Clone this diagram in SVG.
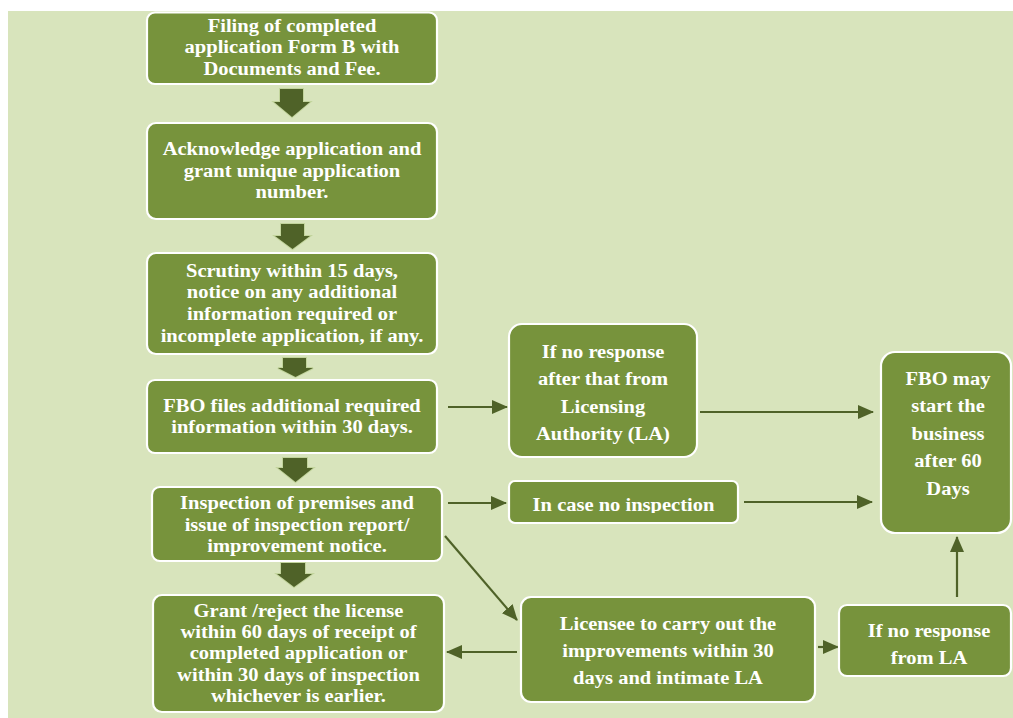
<svg xmlns="http://www.w3.org/2000/svg" width="1013" height="718" viewBox="0 0 1013 718">
  <style>
    .box { fill: #77933C; stroke: #FFFFFF; stroke-width: 2.2; }
    .t { font-family: "Liberation Serif", "Times New Roman", serif; font-weight: bold; font-size: 19px; fill: #FFFFFF; text-anchor: middle; }
    .blk { fill: #4F6228; stroke: #B9CD8E; stroke-width: 2; stroke-opacity: 0.7; paint-order: stroke; }
    .ln { stroke: #4F6228; stroke-width: 2.2; fill: none; marker-end: url(#ah); }
  </style>
  <defs>
    <marker id="ah" markerUnits="userSpaceOnUse" markerWidth="16" markerHeight="14" refX="15" refY="7" orient="auto">
      <path d="M0,0 L16,7 L0,14 z" fill="#4F6228"/>
    </marker>
    <clipPath id="clipCase"><rect x="509" y="481" width="229" height="32"/></clipPath>
  </defs>
  <rect x="0" y="0" width="1013" height="718" fill="#FFFFFF"/>
  <rect x="8" y="11" width="1005" height="707" fill="#D8E4BC"/>

  <g id="arrows-block">
    <path class="blk" d="M280,89 H303 V102 H310 L292,117 L274,102 H280 Z"/>
    <path class="blk" d="M281,224 H304 V236 H310 L292.5,249 L275,236 H281 Z"/>
    <path class="blk" d="M283,358 H306 V368 H313 L295.5,377 L278,368 H283 Z"/>
    <path class="blk" d="M283,458 H307 V468 H313 L295.5,482 L278,468 H283 Z"/>
    <path class="blk" d="M281,563 H305 V574 H312 L294,587 L277,574 H281 Z"/>
  </g>

  <g id="connectors">
    <line class="ln" x1="448" y1="407" x2="507" y2="407"/>
    <line class="ln" x1="700" y1="412" x2="873" y2="412"/>
    <line class="ln" x1="448" y1="503" x2="506" y2="503"/>
    <line class="ln" x1="744" y1="502" x2="872" y2="502"/>
    <line class="ln" x1="445" y1="536" x2="517" y2="620"/>
    <line class="ln" x1="517" y1="652" x2="447" y2="652"/>
    <line class="ln" x1="818" y1="647" x2="838" y2="647"/>
    <line class="ln" x1="957" y1="597" x2="957" y2="537"/>
  </g>

  <g id="n1">
    <rect class="box" x="147" y="12.5" width="290" height="71.5" rx="8"/>
    <text class="t" transform="translate(292,0) scale(1.08,1)"><tspan x="0" y="32">Filing of completed</tspan><tspan x="0" y="53.5">application Form B with</tspan><tspan x="0" y="75">Documents and Fee.</tspan></text>
  </g>
  <g id="n2">
    <rect class="box" x="147" y="123" width="290" height="96" rx="9"/>
    <text class="t" transform="translate(292,0) scale(1.08,1)"><tspan x="0" y="155">Acknowledge application and</tspan><tspan x="0" y="177">grant unique application</tspan><tspan x="0" y="198">number.</tspan></text>
  </g>
  <g id="n3">
    <rect class="box" x="147" y="253" width="290" height="101" rx="9"/>
    <text class="t" transform="translate(292,0) scale(1.08,1)"><tspan x="0" y="277">Scrutiny within 15 days,</tspan><tspan x="0" y="298">notice on any additional</tspan><tspan x="0" y="320">information required or</tspan><tspan x="0" y="342">incomplete application, if any.</tspan></text>
  </g>
  <g id="n4">
    <rect class="box" x="147" y="380" width="290" height="73" rx="8"/>
    <text class="t" transform="translate(292,0) scale(1.08,1)"><tspan x="0" y="412">FBO files additional required</tspan><tspan x="0" y="433">information within 30 days.</tspan></text>
  </g>
  <g id="n5">
    <rect class="box" x="152" y="487" width="290" height="74" rx="8"/>
    <text class="t" transform="translate(297,0) scale(1.08,1)"><tspan x="0" y="509">Inspection of premises and</tspan><tspan x="0" y="531">issue of inspection report/</tspan><tspan x="0" y="552">improvement notice.</tspan></text>
  </g>
  <g id="n6">
    <rect class="box" x="153" y="595" width="291" height="117" rx="9"/>
    <text class="t" transform="translate(298.5,0) scale(1.08,1)"><tspan x="0" y="617">Grant /reject the license</tspan><tspan x="0" y="638">within 60 days of receipt of</tspan><tspan x="0" y="659">completed application or</tspan><tspan x="0" y="681">within 30 days of inspection</tspan><tspan x="0" y="702">whichever is earlier.</tspan></text>
  </g>
  <g id="n7">
    <rect class="box" x="509" y="324" width="188" height="133" rx="13"/>
    <text class="t" transform="translate(603,0) scale(1.08,1)"><tspan x="0" y="358">If no response</tspan><tspan x="0" y="385">after that from</tspan><tspan x="0" y="413">Licensing</tspan><tspan x="0" y="440">Authority (LA)</tspan></text>
  </g>
  <g id="n8">
    <rect class="box" x="509" y="481" width="229" height="42" rx="6"/>
    <g clip-path="url(#clipCase)">
      <text class="t" transform="translate(623.5,0) scale(1.08,1)"><tspan x="0" y="511">In case no inspection</tspan></text>
    </g>
  </g>
  <g id="n9">
    <rect class="box" x="881" y="352" width="130" height="181" rx="14"/>
    <text class="t" transform="translate(948,0) scale(1.08,1)"><tspan x="0" y="385">FBO may</tspan><tspan x="0" y="412">start the</tspan><tspan x="0" y="440">business</tspan><tspan x="0" y="467">after 60</tspan><tspan x="0" y="495">Days</tspan></text>
  </g>
  <g id="n10">
    <rect class="box" x="521" y="597" width="294" height="105" rx="10"/>
    <text class="t" transform="translate(668,0) scale(1.08,1)"><tspan x="0" y="630">Licensee to carry out the</tspan><tspan x="0" y="657">improvements within 30</tspan><tspan x="0" y="684">days and intimate LA</tspan></text>
  </g>
  <g id="n11">
    <rect class="box" x="839" y="605" width="172" height="71" rx="8"/>
    <text class="t" transform="translate(929,0) scale(1.08,1)"><tspan x="0" y="637">If no response</tspan><tspan x="0" y="664">from LA</tspan></text>
  </g>
</svg>
